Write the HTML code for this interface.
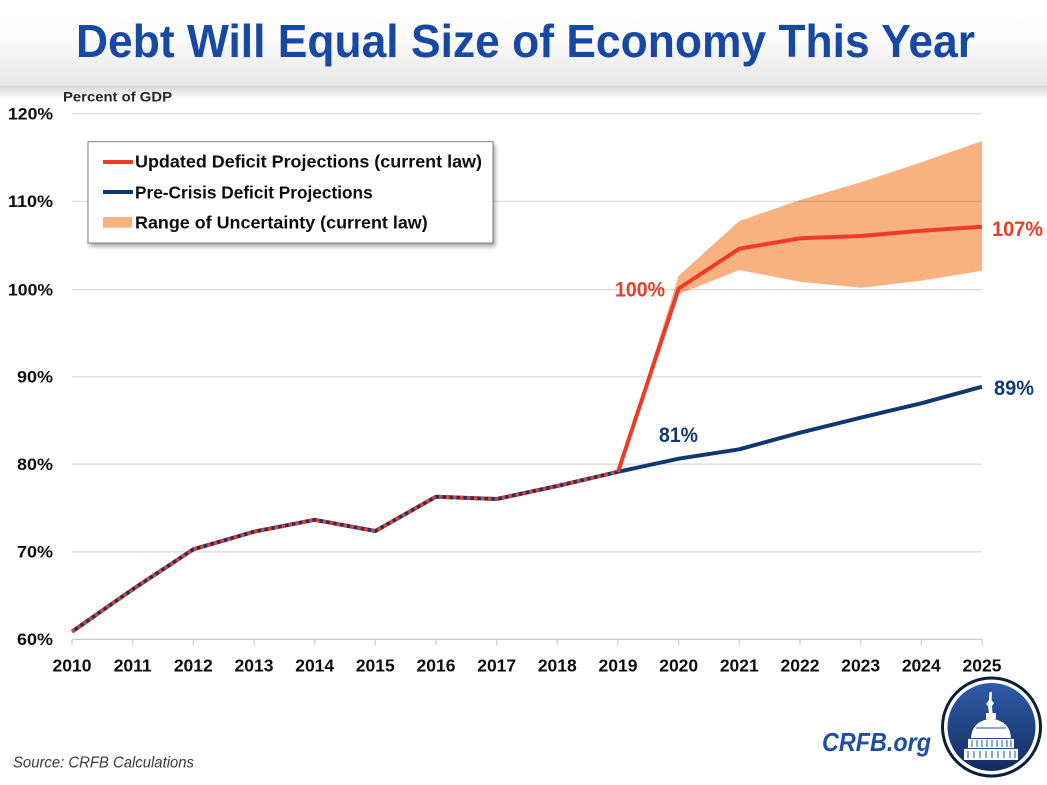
<!DOCTYPE html>
<html><head><meta charset="utf-8"><style>
html,body{margin:0;padding:0;background:#fff;}
svg{display:block;}
text{font-family:"Liberation Sans",sans-serif;}
</style></head><body>
<svg width="1047" height="785" viewBox="0 0 1047 785" xmlns="http://www.w3.org/2000/svg">
<defs>
<linearGradient id="hdr" x1="0" y1="0" x2="0" y2="1">
<stop offset="0" stop-color="#ffffff"/>
<stop offset="0.45" stop-color="#fbfbfb"/>
<stop offset="1" stop-color="#e6e6e6"/>
</linearGradient>
<linearGradient id="shd" x1="0" y1="0" x2="0" y2="1">
<stop offset="0" stop-color="#dedede"/>
<stop offset="1" stop-color="#ffffff"/>
</linearGradient>
<linearGradient id="disc" x1="0" y1="0" x2="0" y2="1">
<stop offset="0" stop-color="#2f5ca8"/>
<stop offset="1" stop-color="#122c61"/>
</linearGradient>
<filter id="ls" x="-10%" y="-10%" width="130%" height="140%">
<feGaussianBlur in="SourceAlpha" stdDeviation="2"/>
<feOffset dx="2" dy="3"/>
<feComponentTransfer><feFuncA type="linear" slope="0.35"/></feComponentTransfer>
<feMerge><feMergeNode/><feMergeNode in="SourceGraphic"/></feMerge>
</filter>
</defs>

<!-- header -->
<rect x="0" y="0" width="1047" height="86" fill="url(#hdr)"/>
<rect x="0" y="86" width="1047" height="1.5" fill="#d2d2d2"/>
<rect x="0" y="87.5" width="1047" height="12" fill="url(#shd)"/>
<text x="525.5" y="57" text-anchor="middle" font-size="46" font-weight="bold" fill="#1749a4" textLength="899" lengthAdjust="spacingAndGlyphs">Debt Will Equal Size of Economy This Year</text>

<text x="63" y="101.5" font-size="14" font-weight="bold" fill="#262626" textLength="109" lengthAdjust="spacingAndGlyphs">Percent of GDP</text>

<!-- band -->
<polygon fill="#f8b282" points="618,471.8 678.7,275.7 739.3,221 800,200 860.7,182.3 921.3,162.3 982,141 982,270.7 921.3,280.7 860.7,287.7 800,281.7 739.3,270 678.7,294 618,471.8"/>

<!-- gridlines -->
<g stroke="#000" stroke-opacity="0.15" stroke-width="1.2">
<line x1="72" y1="113.7" x2="982" y2="113.7"/>
<line x1="72" y1="201.3" x2="982" y2="201.3"/>
<line x1="72" y1="289.6" x2="982" y2="289.6"/>
<line x1="72" y1="376.8" x2="982" y2="376.8"/>
<line x1="72" y1="464.1" x2="982" y2="464.1"/>
<line x1="72" y1="551.9" x2="982" y2="551.9"/>
</g>
<!-- x axis -->
<g stroke="#cfcfcf" stroke-width="1.3">
<line x1="72" y1="639.3" x2="982" y2="639.3"/>
<line x1="72" y1="639.3" x2="72" y2="645"/>
<line x1="132.7" y1="639.3" x2="132.7" y2="645"/>
<line x1="193.3" y1="639.3" x2="193.3" y2="645"/>
<line x1="254" y1="639.3" x2="254" y2="645"/>
<line x1="314.7" y1="639.3" x2="314.7" y2="645"/>
<line x1="375.3" y1="639.3" x2="375.3" y2="645"/>
<line x1="436" y1="639.3" x2="436" y2="645"/>
<line x1="496.7" y1="639.3" x2="496.7" y2="645"/>
<line x1="557.3" y1="639.3" x2="557.3" y2="645"/>
<line x1="618" y1="639.3" x2="618" y2="645"/>
<line x1="678.7" y1="639.3" x2="678.7" y2="645"/>
<line x1="739.3" y1="639.3" x2="739.3" y2="645"/>
<line x1="800" y1="639.3" x2="800" y2="645"/>
<line x1="860.7" y1="639.3" x2="860.7" y2="645"/>
<line x1="921.3" y1="639.3" x2="921.3" y2="645"/>
<line x1="982" y1="639.3" x2="982" y2="645"/>
</g>

<!-- y labels -->
<g font-size="17" font-weight="bold" fill="#0d0d0d" text-anchor="end">
<text x="53" y="119.5" textLength="45" lengthAdjust="spacingAndGlyphs">120%</text>
<text x="53" y="207.2" textLength="45" lengthAdjust="spacingAndGlyphs">110%</text>
<text x="53" y="295.4" textLength="45" lengthAdjust="spacingAndGlyphs">100%</text>
<text x="53" y="382.6" textLength="36" lengthAdjust="spacingAndGlyphs">90%</text>
<text x="53" y="469.9" textLength="36" lengthAdjust="spacingAndGlyphs">80%</text>
<text x="53" y="557.7" textLength="36" lengthAdjust="spacingAndGlyphs">70%</text>
<text x="53" y="645.1" textLength="36" lengthAdjust="spacingAndGlyphs">60%</text>
</g>
<!-- x labels -->
<g font-size="17.5" font-weight="bold" fill="#0d0d0d" text-anchor="middle">
<text x="72" y="671.7">2010</text>
<text x="132.7" y="671.7">2011</text>
<text x="193.3" y="671.7">2012</text>
<text x="254" y="671.7">2013</text>
<text x="314.7" y="671.7">2014</text>
<text x="375.3" y="671.7">2015</text>
<text x="436" y="671.7">2016</text>
<text x="496.7" y="671.7">2017</text>
<text x="557.3" y="671.7">2018</text>
<text x="618" y="671.7">2019</text>
<text x="678.7" y="671.7">2020</text>
<text x="739.3" y="671.7">2021</text>
<text x="800" y="671.7">2022</text>
<text x="860.7" y="671.7">2023</text>
<text x="921.3" y="671.7">2024</text>
<text x="982" y="671.7">2025</text>
</g>

<!-- series -->
<polyline fill="none" stroke="#0f3871" stroke-width="4" stroke-linejoin="round" points="72,631.7 132.7,589.3 193.3,549.3 254,531.7 314.7,519.8 375.3,531 436,496.7 496.7,499 557.3,486 618,471.8 678.7,458.7 739.3,449.3 800,432.7 860.7,417.7 921.3,403.3 982,386.7"/>
<polyline fill="none" stroke="#ef3b26" stroke-width="4" stroke-dasharray="3.5 3.5" points="72,631.7 132.7,589.3 193.3,549.3 254,531.7 314.7,519.8 375.3,531 436,496.7 496.7,499 557.3,486 618,471.8"/>
<polyline fill="none" stroke="#ef3b26" stroke-width="4" stroke-linejoin="round" points="618,471.8 678.7,288.5 739.3,248.7 800,238.3 860.7,236 921.3,230.7 982,226.7"/>

<!-- data labels -->
<g font-size="21" font-weight="bold">
<text x="615" y="296.7" fill="#ef3b26" textLength="50" lengthAdjust="spacingAndGlyphs">100%</text>
<text x="992" y="236" fill="#ef3b26" textLength="51" lengthAdjust="spacingAndGlyphs">107%</text>
<text x="659" y="442" fill="#113a72" textLength="39" lengthAdjust="spacingAndGlyphs">81%</text>
<text x="994" y="395" fill="#113a72" textLength="40" lengthAdjust="spacingAndGlyphs">89%</text>
</g>

<!-- legend -->
<rect x="88" y="141.7" width="405" height="101.3" fill="#fff" stroke="#7f7f7f" stroke-width="1" filter="url(#ls)"/>
<line x1="103" y1="162" x2="133" y2="162" stroke="#ef3b26" stroke-width="4"/>
<line x1="103" y1="192" x2="133" y2="192" stroke="#0f3871" stroke-width="4"/>
<rect x="103" y="217" width="29" height="10.7" fill="#f8b282"/>
<g font-size="17.5" font-weight="bold" fill="#0d0d0d">
<text x="135" y="167.7" textLength="347" lengthAdjust="spacingAndGlyphs">Updated Deficit Projections (current law)</text>
<text x="135" y="198.3" textLength="237.7" lengthAdjust="spacingAndGlyphs">Pre-Crisis Deficit Projections</text>
<text x="135" y="228.3" textLength="292.7" lengthAdjust="spacingAndGlyphs">Range of Uncertainty (current law)</text>
</g>

<!-- footer -->
<text x="13" y="767.7" font-size="15.5" font-style="italic" fill="#3a3a3a" textLength="181" lengthAdjust="spacingAndGlyphs">Source: CRFB Calculations</text>
<text x="822" y="751" font-size="26" font-style="italic" font-weight="bold" fill="#1d4fa6" textLength="109" lengthAdjust="spacingAndGlyphs">CRFB.org</text>

<!-- logo -->
<circle cx="991.5" cy="727" r="49" fill="#fff" stroke="#0d1e3d" stroke-width="3"/>
<circle cx="991.5" cy="727" r="44" fill="url(#disc)"/>
<g fill="#fff">
<path d="M989.5 692 L992 692 L991.5 700 L994 703 L992 706 L992.5 713 L989 713 L988 706 L986 704 L989 700 Z"/>
<rect x="986" y="713" width="10" height="6"/>
<path d="M971 738 Q972 721 991 718.5 Q1010 721 1011 738 Z"/>
<rect x="968" y="738" width="46" height="10"/>
<rect x="964" y="748" width="54" height="12"/>
</g>
<g stroke="#2a4f94" stroke-width="1">
<line x1="976" y1="728" x2="1006" y2="728"/>
<line x1="968" y1="738.5" x2="1014" y2="738.5"/>
<line x1="964" y1="748.5" x2="1018" y2="748.5"/>
<line x1="972" y1="740" x2="972" y2="747"/>
<line x1="977" y1="740" x2="977" y2="747"/>
<line x1="982" y1="740" x2="982" y2="747"/>
<line x1="987" y1="740" x2="987" y2="747"/>
<line x1="992" y1="740" x2="992" y2="747"/>
<line x1="997" y1="740" x2="997" y2="747"/>
<line x1="1002" y1="740" x2="1002" y2="747"/>
<line x1="1007" y1="740" x2="1007" y2="747"/>
<line x1="1011" y1="740" x2="1011" y2="747"/>
<line x1="968" y1="751" x2="968" y2="758"/>
<line x1="974" y1="751" x2="974" y2="758"/>
<line x1="980" y1="751" x2="980" y2="758"/>
<line x1="986" y1="751" x2="986" y2="758"/>
<line x1="992" y1="751" x2="992" y2="758"/>
<line x1="998" y1="751" x2="998" y2="758"/>
<line x1="1004" y1="751" x2="1004" y2="758"/>
<line x1="1010" y1="751" x2="1010" y2="758"/>
<line x1="1015" y1="751" x2="1015" y2="758"/>
</g>
</svg>
</body></html>
